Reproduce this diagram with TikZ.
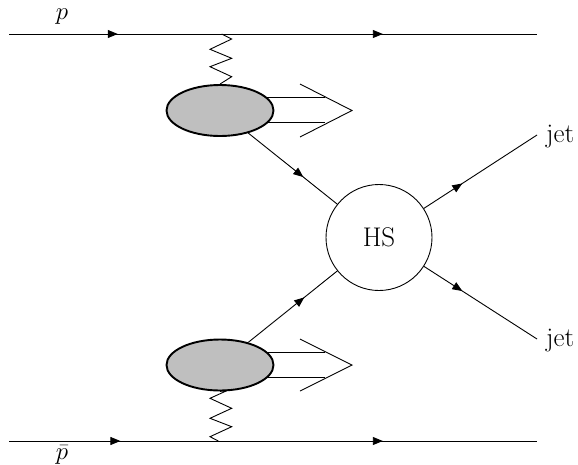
\documentclass[tikz,border=0pt]{standalone}
\usetikzlibrary{shapes.geometric,arrows.meta,decorations.markings}
\begin{document}
\begin{tikzpicture}[x=1pt,y=-1pt,
  every node/.style={font=\fontsize{27}{32}\selectfont},
  ln/.style={line width=0.9pt},
  tipmark/.style={postaction={decorate,decoration={markings,
      mark=at position #1 with {\arrow{Triangle[length=10pt,width=8pt]}}}}},
  blob/.style={ellipse,draw,line width=1.9pt,fill=black!25,minimum width=107pt,minimum height=51pt,inner sep=0pt},
  hsnode/.style={circle,draw,line width=0.9pt,minimum size=106pt,inner sep=0pt}]
\useasboundingbox (0,0) rectangle (578,464);
% beam lines
\coordinate (pL) at (9,34);
\coordinate (pR) at (537,34);
\coordinate (qL) at (9,441);
\coordinate (qR) at (537,441);
\draw[ln,tipmark=0.206,tipmark=0.708] (pL) -- (pR);
\draw[ln,tipmark=0.211,tipmark=0.708] (qL) -- (qR);
\node (plab) at (62,17) {$p$};
\node (qlab) at (62,455) {$\bar p$};
% double-line arrows
\draw[ln] (262,97.7) -- (325,97.7);
\draw[ln] (262,122.7) -- (325,122.7);
\draw[ln] (300,84) -- (352,110.5) -- (300,137);
\draw[ln] (262,352.3) -- (325,352.3);
\draw[ln] (262,377.3) -- (325,377.3);
\draw[ln] (300,339) -- (352,365) -- (300,391);
% blobs and hard scattering
\node[blob] (e1) at (220,110.5) {};
\node[blob] (e2) at (220,365) {};
\node[hsnode] (hs) at (379,237.5) {HS};
% zigzags
\draw[ln] (221.7,34) -- (231.7,39) -- (210,49.3) -- (231.7,58.3) -- (210,66.7) -- (231.7,76.7) -- (e1.north);
\draw[ln] (e2.south) -- (228.3,390) -- (210,398.3) -- (231.7,408.3) -- (210,418.3) -- (231.7,426.7) -- (210,436.7) -- (218.3,441);
% connectors
\draw[ln,tipmark=0.62] (e1) -- (hs);
\draw[ln,tipmark=0.63] (e2) -- (hs);
\coordinate (j1) at (537,135);
\coordinate (j2) at (537,339);
\draw[ln,tipmark=0.34] (hs) -- (j1);
\draw[ln,tipmark=0.34] (hs) -- (j2);
\node[anchor=west,inner sep=0pt] (jl1) at (546,137) {jet};
\node[anchor=west,inner sep=0pt] (jl2) at (546,341) {jet};
\end{tikzpicture}
\end{document}
